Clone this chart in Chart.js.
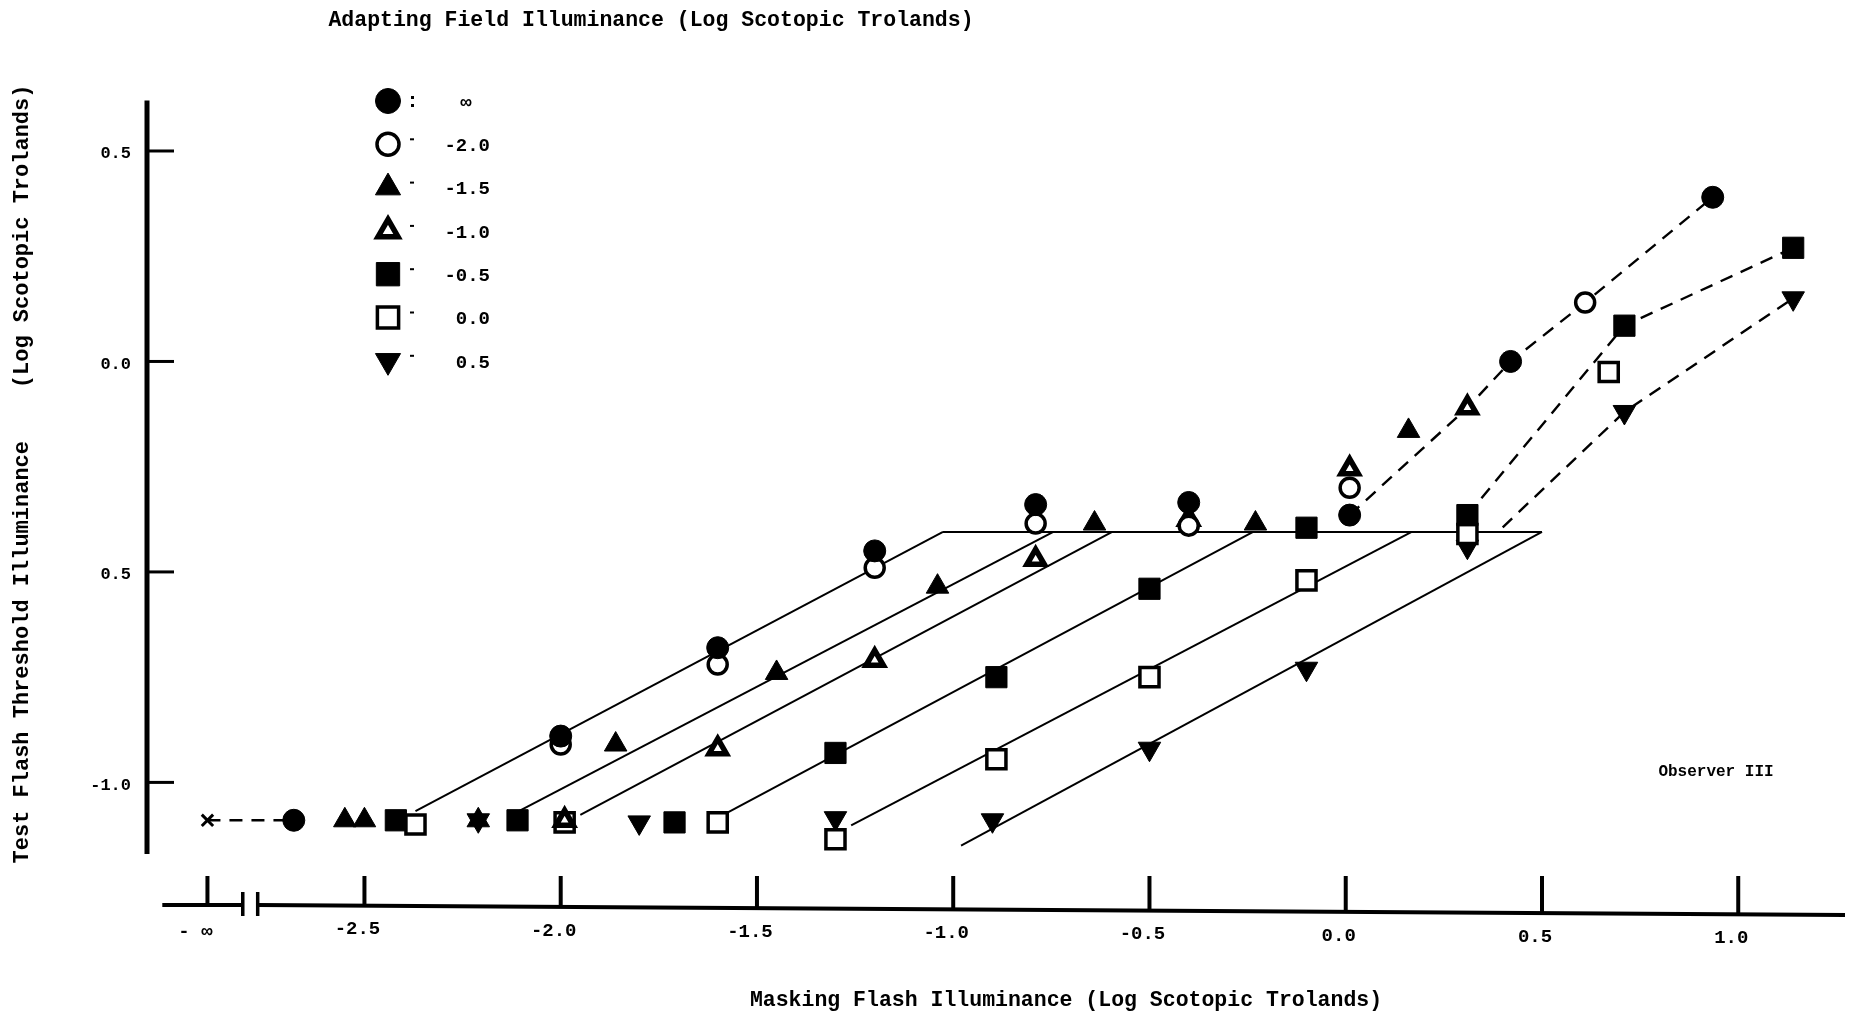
<!DOCTYPE html>
<html>
<head>
<meta charset="utf-8">
<title>Test Flash Threshold vs Masking Flash Illuminance</title>
<script src="https://cdn.jsdelivr.net/npm/chart.js@4.4.1/dist/chart.umd.min.js"></script>
<style>
  html, body { margin: 0; padding: 0; background: #fff; }
  #wrap { width: 1862px; height: 1018px; }
</style>
</head>
<body>
<div id="wrap"><canvas id="maskChart" width="1862" height="1018"></canvas></div>
<script>
// thresholds per adapting field level: [masking flash, test threshold] (log scotopic td)
const fieldLabels = ['∞', '-2.0', '-1.5', '-1.0', '-0.5', '0.0', '0.5'];

const fieldInf = [[-2.68, -1.09], [-2.00, -0.89], [-1.60, -0.68], [-1.20, -0.45], [-0.79, -0.34],
                  [-0.40, -0.335], [0.01, -0.365], [0.42, 0.00], [0.935, 0.39]];
const fieldM20 = [[-2.00, -0.91], [-1.60, -0.72], [-1.20, -0.49], [-0.79, -0.385], [-0.40, -0.39],
                  [0.01, -0.30], [0.61, 0.14]];
const fieldM15 = [[-2.55, -1.09], [-2.50, -1.09], [-2.21, -1.09], [-1.86, -0.91], [-1.45, -0.74],
                  [-1.04, -0.535], [-0.64, -0.385], [-0.23, -0.385], [0.16, -0.165]];
const fieldM10 = [[-1.99, -1.09], [-1.60, -0.92], [-1.20, -0.71], [-0.79, -0.47], [-0.40, -0.375],
                  [0.01, -0.255], [0.31, -0.11]];
const fieldM05 = [[-2.42, -1.09], [-2.11, -1.09], [-1.71, -1.095], [-1.30, -0.93], [-0.89, -0.75],
                  [-0.50, -0.54], [-0.10, -0.395], [0.31, -0.365], [0.71, 0.085], [1.14, 0.27]];
const fieldZ00 = [[-2.37, -1.10], [-1.99, -1.095], [-1.60, -1.095], [-1.30, -1.135], [-0.89, -0.945],
                  [-0.50, -0.75], [-0.10, -0.52], [0.31, -0.41], [0.67, -0.025]];
const fieldP05 = [[-2.21, -1.09], [-1.80, -1.095], [-1.30, -1.085], [-0.90, -1.09], [-0.50, -0.92],
                  [-0.10, -0.73], [0.31, -0.44], [0.71, -0.12], [1.14, 0.15]];

// no masking flash (- infinity)
const minusInfX = -2.90;
const minusInfPoint = [[-2.90, -1.09]];

// hand fitted curves
const solidFits = [
  [[-2.37, -1.068], [-1.026, -0.405]],
  [[-2.12, -1.075], [-0.745, -0.405]],
  [[-1.95, -1.077], [-0.595, -0.405]],
  [[-1.58, -1.074], [-0.236, -0.405]],
  [[-1.26, -1.102], [0.168, -0.405]],
  [[-0.98, -1.150], [0.50, -0.405]],
  [[-1.026, -0.405], [0.50, -0.405]]
];
const dashedFits = [
  [[-2.90, -1.09], [-2.68, -1.09]],
  [[0.01, -0.365], [0.31, -0.11], [0.42, 0.0], [0.61, 0.14], [0.935, 0.39]],
  [[0.31, -0.365], [0.71, 0.085], [1.14, 0.27]],
  [[0.40, -0.394], [0.71, -0.12], [1.14, 0.15]]
];

const xTickValues = [-2.5, -2.0, -1.5, -1.0, -0.5, 0.0, 0.5, 1.0];
const xTickLabels = ['-2.5', '-2.0', '-1.5', '-1.0', '-0.5', '0.0', '0.5', '1.0'];
const minusInfLabel = '- ∞';
const yTickValues = [0.5, 0.0, -0.5, -1.0];
const yTickLabels = ['0.5', '0.0', '0.5', '-1.0'];

const topTitle = 'Adapting Field Illuminance (Log Scotopic Trolands)';
const xTitle = 'Masking Flash Illuminance (Log Scotopic Trolands)';
const yTitle = 'Test Flash Threshold Illuminance    (Log Scotopic Trolands)';
const observerNote = 'Observer III';

const toXY = arr => arr.map(p => ({ x: p[0], y: p[1] }));
const FONT = '"Liberation Mono", "DejaVu Sans Mono", monospace';

function markerSet(label, data, style) {
  return Object.assign({
    label,
    data: toXY(data),
    showLine: false,
    borderColor: '#000',
    backgroundColor: '#000',
    borderWidth: 1,
    order: 1
  }, style);
}

const markerSets = [
  markerSet(fieldLabels[0], fieldInf, { pointStyle: 'circle', pointRadius: 11 }),
  markerSet(fieldLabels[1], fieldM20, { pointStyle: 'circle', pointRadius: 9.5, backgroundColor: '#fff', borderWidth: 3.5 }),
  markerSet(fieldLabels[2], fieldM15, { pointStyle: 'triangle', pointRadius: 13 }),
  markerSet(fieldLabels[3], fieldM10, { pointStyle: 'triangle', pointRadius: 10, backgroundColor: '#fff', borderWidth: 5.5 }),
  markerSet(fieldLabels[4], fieldM05, { pointStyle: 'rect', pointRadius: 15 }),
  markerSet(fieldLabels[5], fieldZ00, { pointStyle: 'rect', pointRadius: 13.5, backgroundColor: '#fff', borderWidth: 3.5 }),
  markerSet(fieldLabels[6], fieldP05, { pointStyle: 'triangle', pointRadius: 13, rotation: 180 })
];

const lineSets = [];
solidFits.forEach(seg => lineSets.push({
  data: toXY(seg), showLine: true, pointRadius: 0, borderColor: '#000',
  borderWidth: 2, order: 2
}));
dashedFits.forEach(seg => lineSets.push({
  data: toXY(seg), showLine: true, pointRadius: 0, borderColor: '#000',
  borderWidth: 2.4, borderDash: [13, 9], order: 2
}));

const infSet = {
  data: toXY(minusInfPoint), showLine: false, pointStyle: 'crossRot', pointRadius: 8,
  borderColor: '#000', borderWidth: 3, order: 1
};

// axes, ticks, titles and the key, drawn on the chart scales
const paperAxes = {
  id: 'paperAxes',
  afterDraw(chart) {
    const ctx = chart.ctx;
    const xs = chart.scales.x, ys = chart.scales.y;
    const area = chart.chartArea;
    ctx.save();
    ctx.strokeStyle = '#000';
    ctx.fillStyle = '#000';
    ctx.lineCap = 'butt';

    // y axis
    const yAxisX = area.left;
    ctx.lineWidth = 5;
    ctx.beginPath();
    ctx.moveTo(yAxisX, ys.getPixelForValue(0.62));
    ctx.lineTo(yAxisX, ys.getPixelForValue(-1.17));
    ctx.stroke();
    ctx.lineWidth = 3;
    ctx.font = 'bold 17px ' + FONT;
    ctx.textAlign = 'right';
    ctx.textBaseline = 'middle';
    yTickValues.forEach((v, i) => {
      const py = ys.getPixelForValue(v);
      ctx.beginPath();
      ctx.moveTo(yAxisX, py);
      ctx.lineTo(yAxisX + 27, py);
      ctx.stroke();
      ctx.fillText(yTickLabels[i], yAxisX - 16, py + 3);
    });

    // x axis with a break after minus infinity, sagging slightly to the right
    const axisY = area.bottom - 6;
    const breakL = xs.getPixelForValue(-2.81), breakR = xs.getPixelForValue(-2.772);
    const sag = px => axisY + 10 * Math.max(0, px - breakR) / (area.right - breakR);
    ctx.lineWidth = 4;
    ctx.beginPath();
    ctx.moveTo(xs.getPixelForValue(-3.015), axisY);
    ctx.lineTo(breakL, axisY);
    ctx.moveTo(breakR, axisY);
    ctx.lineTo(area.right, sag(area.right));
    ctx.stroke();
    ctx.lineWidth = 3.5;
    [breakL, breakR].forEach(px => {
      ctx.beginPath();
      ctx.moveTo(px, axisY - 13);
      ctx.lineTo(px, axisY + 11);
      ctx.stroke();
    });
    ctx.lineWidth = 4;
    [minusInfX].concat(xTickValues).forEach(v => {
      const px = xs.getPixelForValue(v);
      ctx.beginPath();
      ctx.moveTo(px, sag(px));
      ctx.lineTo(px, axisY - 29);
      ctx.stroke();
    });
    ctx.font = 'bold 19px ' + FONT;
    ctx.textAlign = 'center';
    ctx.textBaseline = 'middle';
    xTickValues.forEach((v, i) => {
      const px = xs.getPixelForValue(v);
      ctx.fillText(xTickLabels[i], px - 7, sag(px) + 24);
    });
    ctx.fillText(minusInfLabel, xs.getPixelForValue(minusInfX) - 12, axisY + 27);

    // titles
    ctx.font = 'bold 21.5px ' + FONT;
    ctx.fillText(topTitle, 651, 21);
    ctx.fillText(xTitle, 1066, 1001);
    ctx.save();
    ctx.font = 'bold 22px ' + FONT;
    ctx.translate(22, 474);
    ctx.rotate(-Math.PI / 2);
    ctx.fillText(yTitle, 0, 0);
    ctx.restore();
    ctx.font = 'bold 16px ' + FONT;
    ctx.fillText(observerNote, 1716, 772);

    // key
    const keyX = 388, keyTop = 101, keyStep = 43.3;
    ctx.font = 'bold 19px ' + FONT;
    markerSets.forEach((ds, i) => {
      const ky = keyTop + i * keyStep;
      ctx.save();
      ctx.fillStyle = ds.backgroundColor;
      ctx.strokeStyle = ds.borderColor;
      ctx.lineWidth = ds.borderWidth;
      Chart.helpers.drawPoint(ctx, {
        pointStyle: ds.pointStyle,
        radius: ds.pointRadius + 1.5,
        rotation: ds.rotation || 0,
        borderWidth: ds.borderWidth
      }, keyX, ky);
      ctx.restore();
      if (i === 0) {
        ctx.fillRect(keyX + 23, ky - 5, 3, 3);
        ctx.fillRect(keyX + 23, ky + 3, 3, 3);
      } else {
        ctx.fillRect(keyX + 22, ky - 6, 4, 2);
      }
      ctx.textAlign = i === 0 ? 'center' : 'right';
      ctx.fillText(ds.label, i === 0 ? 466 : 490, ky + 2);
    });
    ctx.restore();
  }
};

new Chart(document.getElementById('maskChart'), {
  type: 'scatter',
  data: { datasets: lineSets.concat(markerSets, [infSet]) },
  options: {
    responsive: false,
    devicePixelRatio: 1,
    animation: false,
    events: [],
    layout: { padding: { left: 147, right: 10, top: 95, bottom: 107 } },
    plugins: { legend: { display: false }, tooltip: { enabled: false }, title: { display: false } },
    scales: {
      x: { type: 'linear', min: -3.054, max: 1.272, display: false },
      y: { type: 'linear', min: -1.3055, max: 0.633, display: false }
    }
  },
  plugins: [paperAxes]
});
</script>
</body>
</html>
